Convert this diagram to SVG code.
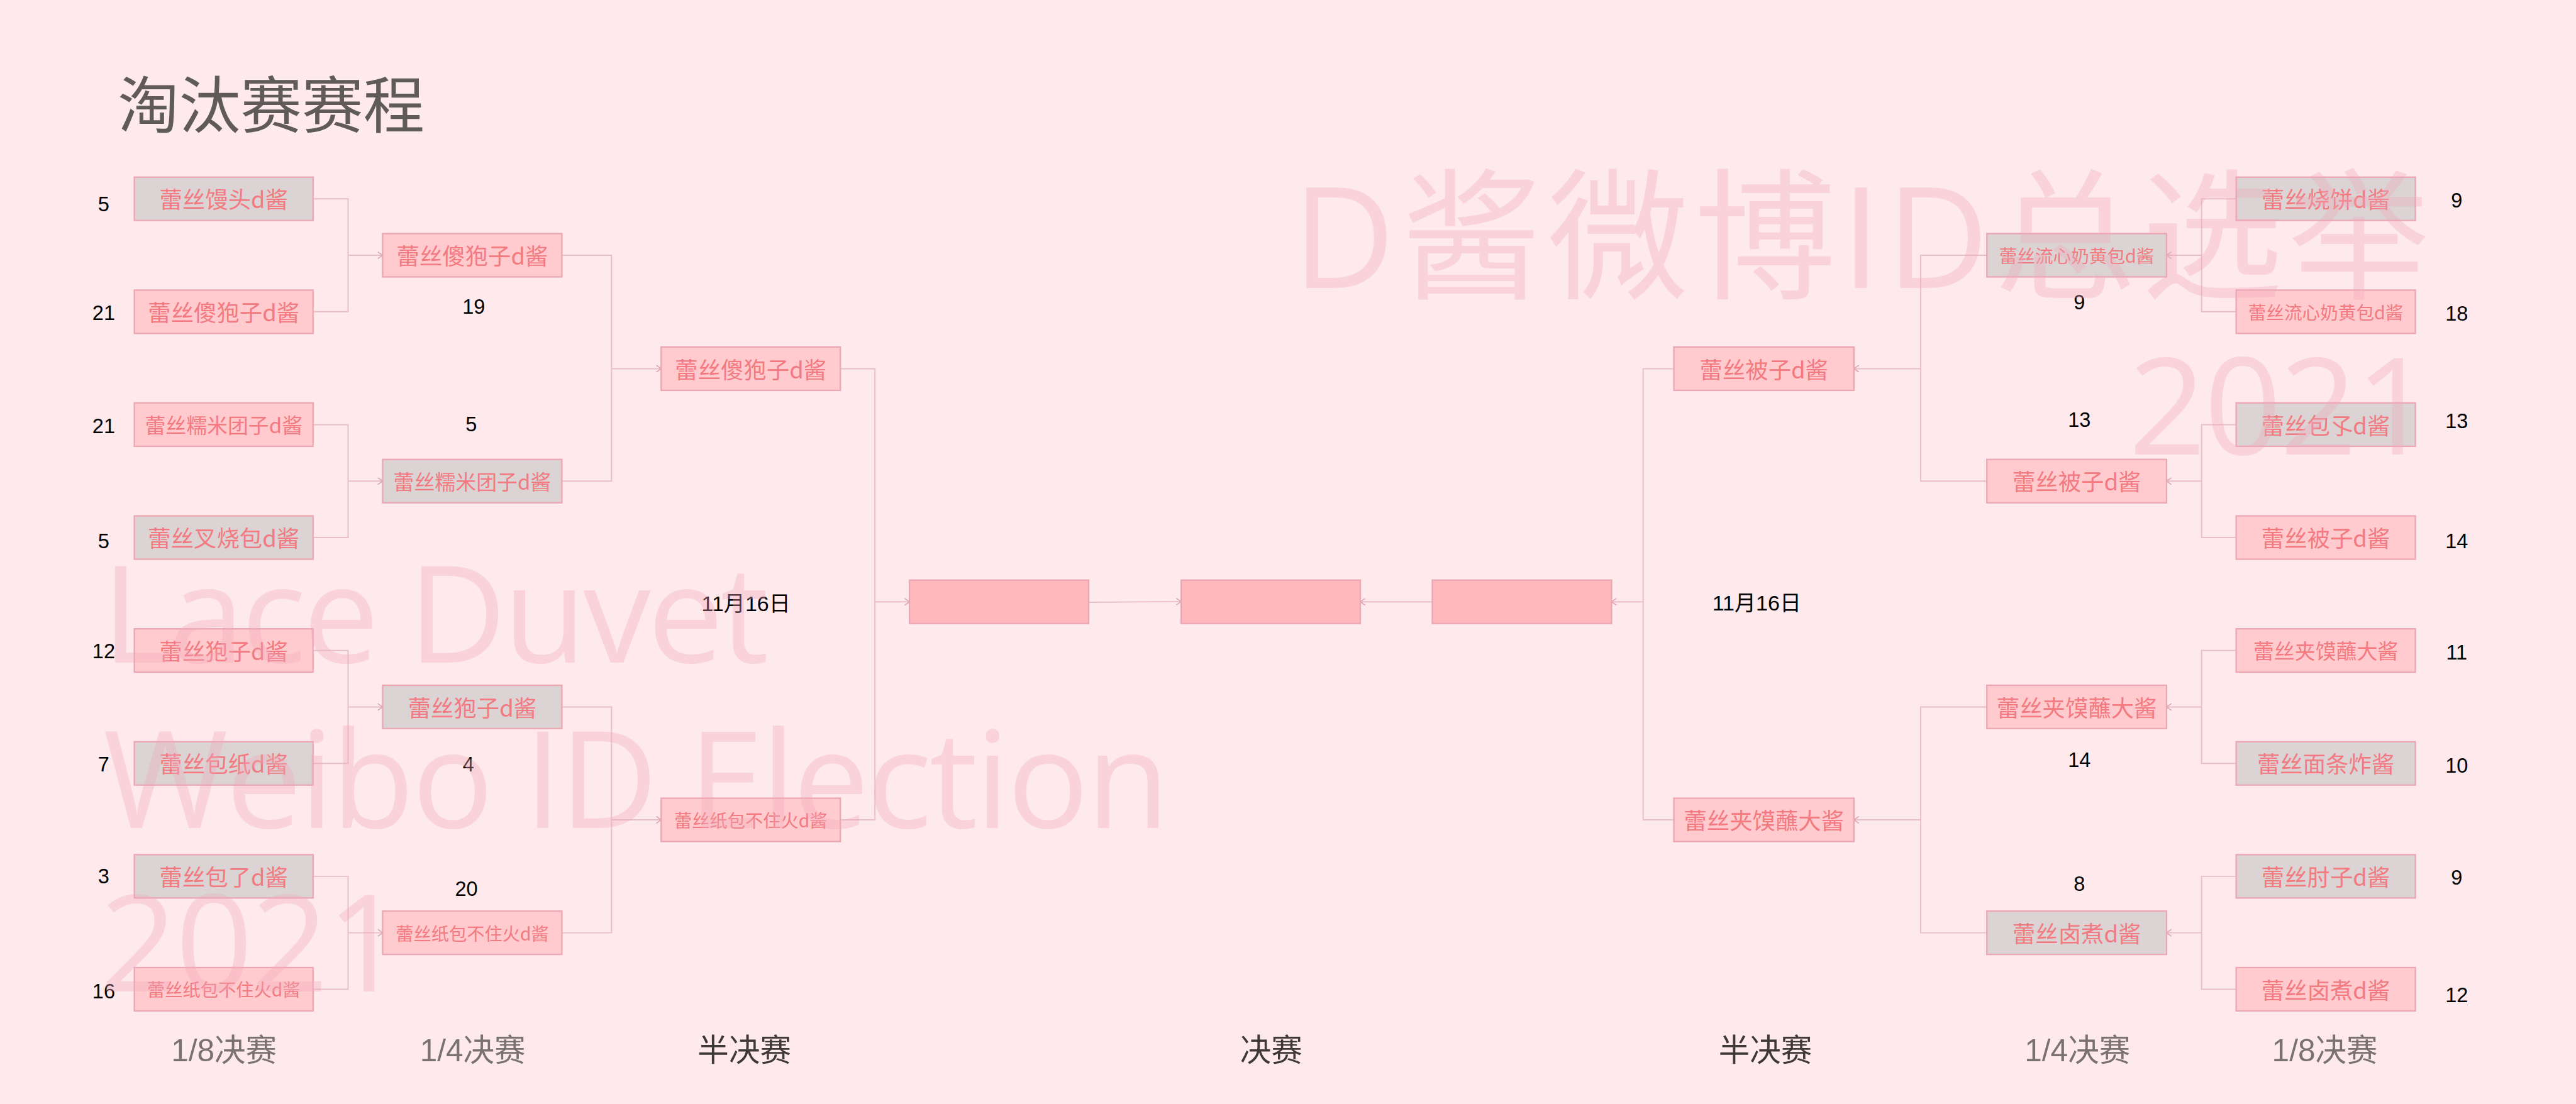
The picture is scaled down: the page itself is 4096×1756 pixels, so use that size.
<svg xmlns="http://www.w3.org/2000/svg" width="4096" height="1756" viewBox="0 0 4096 1756">
<style>
.bx{stroke:#eba7b4;stroke-width:3}
.pk{fill:#ffcbce}
.gy{fill:#dbd3d4}
.fn{fill:#ffb9bc}
.t{font-family:"Noto Sans CJK SC","Noto Sans",sans-serif;fill:#f27a80;text-anchor:middle}
.n{font-family:"Liberation Sans",Arial,sans-serif;font-size:42px;fill:#000;text-anchor:middle}
.d{font-family:"Liberation Sans","Noto Sans CJK SC",sans-serif;font-size:44px;fill:#000}
.st{font-family:"Liberation Sans","Noto Sans CJK SC",sans-serif;font-size:64px;text-anchor:middle}
.c{fill:none;stroke:#e8bec7;stroke-width:2.5}
.a{marker-end:url(#ar)}
.wm{font-family:"Open Sans","Noto Sans CJK SC",sans-serif;fill:#f2a9bb;fill-opacity:0.35}
</style>
<defs>
<marker id="ar" markerUnits="userSpaceOnUse" markerWidth="14" markerHeight="16" refX="11" refY="8" orient="auto">
<path d="M1,1 L11,8 L1,15" fill="none" stroke="#dca3b2" stroke-width="2"/>
</marker>
</defs>
<rect x="0" y="0" width="4096" height="1756" fill="#fee9ec"/>
<g transform="scale(0.774145)">
<text x="242" y="262" font-family="'Noto Sans CJK SC',sans-serif" font-size="126" fill="#615a5a">淘汰赛赛程</text>

<g id="connectors">
<path class="c" d="M643 408.5H715V640.5H643"/><path class="c a" d="M715 524.5H786"/>
<path class="c" d="M643 872.5H715V1104.5H643"/><path class="c a" d="M715 988.5H786"/>
<path class="c" d="M643 1336.5H715V1568.5H643"/><path class="c a" d="M715 1452.5H786"/>
<path class="c" d="M643 1800.5H715V2032.5H643"/><path class="c a" d="M715 1916.5H786"/>
<path class="c" d="M1154 524.5H1256V988.5H1154"/><path class="c a" d="M1256 757.5H1358"/>
<path class="c" d="M1154 1452.5H1256V1916.5H1154"/><path class="c a" d="M1256 1684.5H1358"/>
<path class="c" d="M1726 757.5H1797V1684.5H1726"/><path class="c a" d="M1797 1236.5H1868"/>
<path class="c a" d="M2236 1237.5L2426 1236"/>
<path class="c a" d="M2942 1236.5H2794"/>
<path class="c" d="M3438 757.5H3375V1684.5H3438"/><path class="c a" d="M3375 1236.5H3310"/>
<path class="c" d="M4081 524.5H3945V988.5H4081"/><path class="c a" d="M3945 757.5H3808"/>
<path class="c" d="M4081 1452.5H3945V1916.5H4081"/><path class="c a" d="M3945 1684.5H3808"/>
<path class="c" d="M4593 408.5H4522V640.5H4593"/><path class="c a" d="M4522 524.5H4450"/>
<path class="c" d="M4593 872.5H4522V1104.5H4593"/><path class="c a" d="M4522 988.5H4450"/>
<path class="c" d="M4593 1336.5H4522V1568.5H4593"/><path class="c a" d="M4522 1452.5H4450"/>
<path class="c" d="M4593 1800.5H4522V2032.5H4593"/><path class="c a" d="M4522 1916.5H4450"/>
</g>

<g id="L1"><rect class="bx gy" x="276" y="364" width="367" height="89"/><text class="t" x="459.5" y="428" font-size="47">蕾丝馒头d酱</text></g>
<g id="L2"><rect class="bx pk" x="276" y="596" width="367" height="89"/><text class="t" x="459.5" y="660" font-size="47">蕾丝傻狍子d酱</text></g>
<g id="L3"><rect class="bx pk" x="276" y="828" width="367" height="89"/><text class="t" x="459.5" y="890" font-size="42.5">蕾丝糯米团子d酱</text></g>
<g id="L4"><rect class="bx gy" x="276" y="1060" width="367" height="89"/><text class="t" x="459.5" y="1124" font-size="47">蕾丝叉烧包d酱</text></g>
<g id="L5"><rect class="bx pk" x="276" y="1292" width="367" height="89"/><text class="t" x="459.5" y="1356" font-size="47">蕾丝狍子d酱</text></g>
<g id="L6"><rect class="bx gy" x="276" y="1524" width="367" height="89"/><text class="t" x="459.5" y="1588" font-size="47">蕾丝包纸d酱</text></g>
<g id="L7"><rect class="bx gy" x="276" y="1756" width="367" height="89"/><text class="t" x="459.5" y="1820" font-size="47">蕾丝包了d酱</text></g>
<g id="L8"><rect class="bx pk" x="276" y="1988" width="367" height="89"/><text class="t" x="459.5" y="2048" font-size="36.5">蕾丝纸包不住火d酱</text></g>

<g id="LQ1"><rect class="bx pk" x="786" y="480" width="368" height="89"/><text class="t" x="970" y="544" font-size="47">蕾丝傻狍子d酱</text></g>
<g id="LQ2"><rect class="bx gy" x="786" y="944" width="368" height="89"/><text class="t" x="970" y="1006" font-size="42.5">蕾丝糯米团子d酱</text></g>
<g id="LQ3"><rect class="bx gy" x="786" y="1408" width="368" height="89"/><text class="t" x="970" y="1472" font-size="47">蕾丝狍子d酱</text></g>
<g id="LQ4"><rect class="bx pk" x="786" y="1872" width="368" height="89"/><text class="t" x="970" y="1932" font-size="36.5">蕾丝纸包不住火d酱</text></g>

<g id="LS1"><rect class="bx pk" x="1358" y="713" width="368" height="89"/><text class="t" x="1542" y="777" font-size="47">蕾丝傻狍子d酱</text></g>
<g id="LS2"><rect class="bx pk" x="1358" y="1640" width="368" height="89"/><text class="t" x="1542" y="1700" font-size="36.5">蕾丝纸包不住火d酱</text></g>

<g id="FL"><rect class="bx fn" x="1868" y="1192" width="368" height="89"/></g>
<g id="FC"><rect class="bx fn" x="2426" y="1192" width="368" height="89"/></g>
<g id="FR"><rect class="bx fn" x="2942" y="1192" width="368" height="89"/></g>

<g id="RS1"><rect class="bx pk" x="3438" y="713" width="370" height="89"/><text class="t" x="3623" y="777" font-size="47">蕾丝被子d酱</text></g>
<g id="RS2"><rect class="bx pk" x="3438" y="1640" width="370" height="89"/><text class="t" x="3623" y="1704" font-size="47">蕾丝夹馍蘸大酱</text></g>

<g id="RQ1"><rect class="bx gy" x="4081" y="480" width="369" height="89"/><text class="t" x="4265.5" y="540" font-size="37">蕾丝流心奶黄包d酱</text></g>
<g id="RQ2"><rect class="bx pk" x="4081" y="944" width="369" height="89"/><text class="t" x="4265.5" y="1008" font-size="47">蕾丝被子d酱</text></g>
<g id="RQ3"><rect class="bx pk" x="4081" y="1408" width="369" height="89"/><text class="t" x="4265.5" y="1472" font-size="47">蕾丝夹馍蘸大酱</text></g>
<g id="RQ4"><rect class="bx gy" x="4081" y="1872" width="369" height="89"/><text class="t" x="4265.5" y="1936" font-size="47">蕾丝卤煮d酱</text></g>

<g id="R1"><rect class="bx gy" x="4593" y="364" width="368" height="89"/><text class="t" x="4777" y="428" font-size="47">蕾丝烧饼d酱</text></g>
<g id="R2"><rect class="bx pk" x="4593" y="596" width="368" height="89"/><text class="t" x="4777" y="656" font-size="37">蕾丝流心奶黄包d酱</text></g>
<g id="R3"><rect class="bx gy" x="4593" y="828" width="368" height="89"/><text class="t" x="4777" y="892" font-size="47">蕾丝包孓d酱</text></g>
<g id="R4"><rect class="bx pk" x="4593" y="1060" width="368" height="89"/><text class="t" x="4777" y="1124" font-size="47">蕾丝被子d酱</text></g>
<g id="R5"><rect class="bx pk" x="4593" y="1292" width="368" height="89"/><text class="t" x="4777" y="1354" font-size="42.5">蕾丝夹馍蘸大酱</text></g>
<g id="R6"><rect class="bx gy" x="4593" y="1524" width="368" height="89"/><text class="t" x="4777" y="1588" font-size="47">蕾丝面条炸酱</text></g>
<g id="R7"><rect class="bx gy" x="4593" y="1756" width="368" height="89"/><text class="t" x="4777" y="1820" font-size="47">蕾丝肘子d酱</text></g>
<g id="R8"><rect class="bx pk" x="4593" y="1988" width="368" height="89"/><text class="t" x="4777" y="2052" font-size="47">蕾丝卤煮d酱</text></g>

<g id="scores">
<text class="n" x="213" y="434">5</text>
<text class="n" x="213" y="657">21</text>
<text class="n" x="213" y="890">21</text>
<text class="n" x="213" y="1127">5</text>
<text class="n" x="213" y="1353">12</text>
<text class="n" x="213" y="1585">7</text>
<text class="n" x="213" y="1815">3</text>
<text class="n" x="213" y="2051">16</text>
<text class="n" x="973" y="644">19</text>
<text class="n" x="968" y="886">5</text>
<text class="n" x="962" y="1585">4</text>
<text class="n" x="958" y="1841">20</text>
<text class="n" x="5046" y="426">9</text>
<text class="n" x="5046" y="659">18</text>
<text class="n" x="5046" y="880">13</text>
<text class="n" x="5046" y="1126">14</text>
<text class="n" x="5046" y="1355">11</text>
<text class="n" x="5046" y="1587">10</text>
<text class="n" x="5046" y="1818">9</text>
<text class="n" x="5046" y="2059">12</text>
<text class="n" x="4271" y="636">9</text>
<text class="n" x="4271" y="877">13</text>
<text class="n" x="4271" y="1576">14</text>
<text class="n" x="4271" y="1831">8</text>
<text class="d" x="1441" y="1255">11月16日</text>
<text class="d" x="3517" y="1254">11月16日</text>
</g>

<g id="stages">
<text class="st" x="460" y="2180" fill="#7a7272">1/8决赛</text>
<text class="st" x="971" y="2180" fill="#7a7272">1/4决赛</text>
<text class="st" x="1529" y="2180" fill="#3f3838">半决赛</text>
<text class="st" x="2611" y="2180" fill="#3f3838">决赛</text>
<text class="st" x="3626" y="2180" fill="#3f3838">半决赛</text>
<text class="st" x="4267" y="2180" fill="#7a7272">1/4决赛</text>
<text class="st" x="4775" y="2180" fill="#7a7272">1/8决赛</text>
</g>

<g id="watermark">
<text class="wm" x="209" y="1361" font-size="278" textLength="1370" lengthAdjust="spacing">Lace Duvet</text>
<text class="wm" x="212" y="1701" font-size="278" textLength="2190" lengthAdjust="spacing">Weibo ID Election</text>
<text class="wm" x="205" y="2037" font-size="278" textLength="625" lengthAdjust="spacing">2021</text>
<text class="wm" x="2655" y="592" font-size="290" textLength="2335" lengthAdjust="spacing">D酱微博ID总选举</text>
<text class="wm" x="4372" y="934" font-size="278" textLength="625" lengthAdjust="spacing">2021</text>
</g>
</g>
</svg>
